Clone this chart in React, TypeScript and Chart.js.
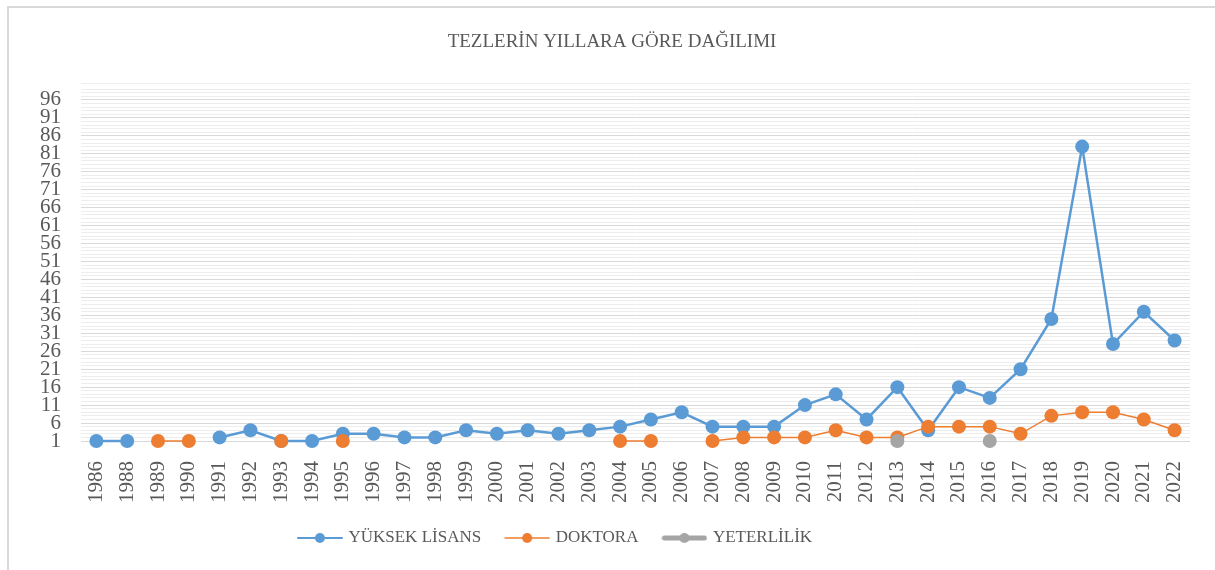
import React, { useEffect, useRef } from 'react';
import { Chart, registerables } from 'chart.js';

Chart.register(...registerables);

// ---------- data ----------
const chartTitle = 'TEZLERİN YILLARA GÖRE DAĞILIMI';

const categories = [
  '1986', '1988', '1989', '1990', '1991', '1992', '1993', '1994', '1995', '1996',
  '1997', '1998', '1999', '2000', '2001', '2002', '2003', '2004', '2005', '2006',
  '2007', '2008', '2009', '2010', '2011', '2012', '2013', '2014', '2015', '2016',
  '2017', '2018', '2019', '2020', '2021', '2022',
];

const yuksekLisans = [
  1, 1, null, null, 2, 4, 1, 1, 3, 3,
  2, 2, 4, 3, 4, 3, 4, 5, 7, 9,
  5, 5, 5, 11, 14, 7, 16, 4, 16, 13,
  21, 35, 83, 28, 37, 29,
];

const doktora = [
  null, null, 1, 1, null, null, 1, null, 1, null,
  null, null, null, null, null, null, null, 1, 1, null,
  1, 2, 2, 2, 4, 2, 2, 5, 5, 5,
  3, 8, 9, 9, 7, 4,
];

const yeterlilik = [
  null, null, null, null, null, null, null, null, null, null,
  null, null, null, null, null, null, null, null, null, null,
  null, null, null, null, null, null, 1, null, null, 1,
  null, null, null, null, null, null,
];

const seriesNames = ['YÜKSEK LİSANS', 'DOKTORA', 'YETERLİLİK'];
const seriesValues = [yuksekLisans, doktora, yeterlilik];

const yMin = 1;
const yMax = 100.5;
const yStep = 1;
const yLabelEvery = 5;

// ---------- styles ----------
const seriesColors = ['#5b9bd5', '#ed7d31', '#a5a5a5'];
const seriesLineWidths = [2.5, 1.5, 5];
const legendLineWidths = [2, 1.5, 5];
const textColor = '#595959';
const fontFamily = '"Liberation Serif", "Times New Roman", serif';
const legendCenterX = 556;
const titleCenterX = 612;

function isMajor(v: number) {
  return Number.isInteger(v) && (v - yMin) % yLabelEvery === 0;
}

function makeLegendIcon(color: string, lineWidth: number, radius: number) {
  const c = document.createElement('canvas');
  c.width = 46;
  c.height = 14;
  const ctx = c.getContext('2d')!;
  ctx.strokeStyle = color;
  ctx.lineWidth = lineWidth;
  ctx.lineCap = 'round';
  ctx.beginPath();
  ctx.moveTo(lineWidth > 3 ? 3 : 1, 7);
  ctx.lineTo(lineWidth > 3 ? 43 : 45, 7);
  ctx.stroke();
  ctx.fillStyle = color;
  ctx.beginPath();
  ctx.arc(23, 7, radius, 0, Math.PI * 2);
  ctx.fill();
  return c;
}

const shiftPlugin = {
  id: 'shiftBoxes',
  afterLayout(chart: any) {
    const lg = chart.legend;
    if (lg && lg.lineWidths && lg.lineWidths.length) {
      const pad = lg.options.labels.padding;
      const lw = lg.lineWidths[0];
      const start = (lg.left + pad + lg.right - lw) / 2;
      const center = start + (lw - pad) / 2;
      const d = legendCenterX - center;
      lg.left += d;
      lg.right += d;
    }
    const t = chart.titleBlock;
    if (t) {
      const c = (t.left + t.right) / 2;
      const d = titleCenterX - c;
      t.left += d;
      t.right += d;
    }
  },
};

export default function App() {
  const canvasRef = useRef<HTMLCanvasElement | null>(null);

  useEffect(() => {
    const canvas = canvasRef.current;
    if (!canvas) return;
    const icons = seriesColors.map((c, i) => makeLegendIcon(c, legendLineWidths[i], 5));
    const orders = [3, 2, 1];

    const chart = new Chart(canvas, {
      type: 'line',
      data: {
        labels: categories,
        datasets: seriesNames.map((name, i) => ({
          label: name,
          data: seriesValues[i],
          borderColor: seriesColors[i],
          backgroundColor: seriesColors[i],
          borderWidth: seriesLineWidths[i],
          pointRadius: 7,
          pointHoverRadius: 7,
          pointBorderWidth: 0,
          pointBackgroundColor: seriesColors[i],
          tension: 0,
          spanGaps: false,
          fill: false,
          clip: false,
          order: orders[i],
        })),
      },
      options: {
        responsive: false,
        animation: false,
        layout: { padding: { left: 8, right: 25, top: 0, bottom: 13.5 } },
        plugins: {
          title: {
            display: true,
            text: chartTitle,
            color: textColor,
            font: { family: fontFamily, size: 19, weight: 'normal' },
            padding: { top: 31, bottom: 30 },
          },
          legend: {
            position: 'bottom',
            labels: {
              usePointStyle: true,
              pointStyleWidth: 40,
              padding: 26,
              color: textColor,
              font: { family: fontFamily, size: 17 },
              generateLabels: () =>
                seriesNames.map((n, i) => ({
                  text: n,
                  pointStyle: icons[i],
                  datasetIndex: i,
                  fillStyle: seriesColors[i],
                  strokeStyle: seriesColors[i],
                  lineWidth: 0,
                  hidden: false,
                  fontColor: textColor,
                })),
            },
          },
          tooltip: { enabled: false },
        },
        scales: {
          x: {
            type: 'category',
            offset: true,
            grid: { display: false },
            border: { display: false },
            ticks: {
              autoSkip: false,
              minRotation: 90,
              maxRotation: 90,
              padding: 12,
              color: textColor,
              font: { family: fontFamily, size: 21 },
            },
            afterFit: (s: any) => {
              s.height = 62.5;
            },
          },
          y: {
            type: 'linear',
            min: yMin,
            max: yMax,
            border: { display: false },
            grid: {
              drawTicks: false,
              lineWidth: 1,
              color: (ctx: any) => (isMajor(ctx.tick ? ctx.tick.value : NaN) ? '#d9d9d9' : '#ededed'),
            },
            ticks: {
              stepSize: yStep,
              autoSkip: false,
              maxTicksLimit: 1000,
              padding: 20,
              color: textColor,
              font: { family: fontFamily, size: 21 },
              callback: (v: any) => (isMajor(Number(v)) ? String(v) : ''),
            },
            afterFit: (s: any) => {
              s.width = 73;
            },
          },
        },
      },
      plugins: [shiftPlugin],
    } as any);

    return () => chart.destroy();
  }, []);

  return (
    <div style={{ position: 'absolute', left: 0, top: 0, width: 1215, height: 570, background: '#ffffff' }}>
      <div
        style={{
          position: 'absolute',
          left: 7,
          top: 6,
          width: 1208,
          height: 564,
          boxSizing: 'border-box',
          borderLeft: '2px solid #d9d9d9',
          borderTop: '2px solid #d9d9d9',
        }}
      />
      <canvas
        ref={canvasRef}
        width={1215}
        height={570}
        style={{ position: 'absolute', left: 0, top: 0, display: 'block' }}
      />
    </div>
  );
}
